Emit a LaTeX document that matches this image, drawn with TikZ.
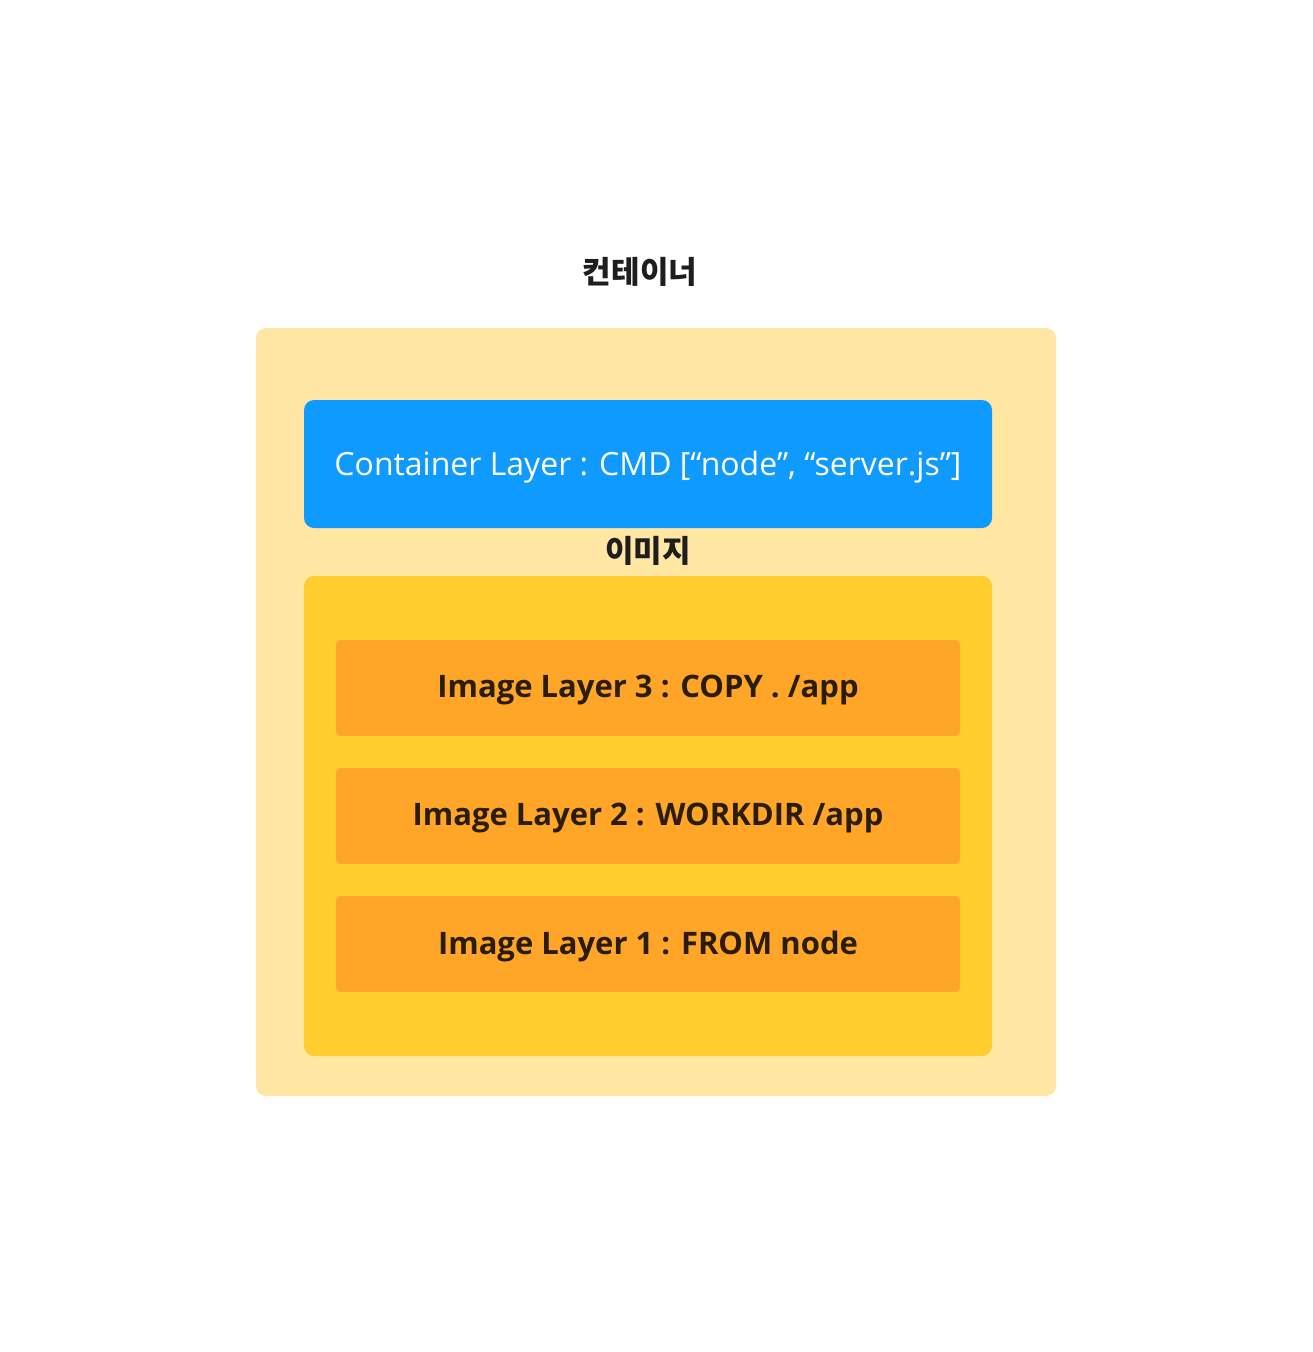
\documentclass[tikz,border=0pt]{standalone}
\usepackage{fontspec}
\setmainfont{Open Sans}
\newfontfamily\kor{Noto Sans CJK KR}
\definecolor{outerc}{HTML}{FFE6A3}
\definecolor{bluec}{HTML}{0F9AFF}
\definecolor{imgc}{HTML}{FFCD2E}
\definecolor{layc}{HTML}{FFA629}
\definecolor{dark}{HTML}{2A1C05}
\definecolor{titlec}{HTML}{1E1E1E}
\begin{document}
\begin{tikzpicture}[x=1pt,y=-1pt,
  box/.style={rounded corners=10pt,inner sep=0pt},
  layer/.style={fill=layc,rounded corners=4pt,inner sep=0pt,minimum width=624pt,minimum height=96pt},
  ltext/.style={font=\fontsize{31}{36}\selectfont\bfseries,text=dark,inner sep=0pt},
  ttl/.style={font=\kor\fontsize{31}{36}\selectfont\bfseries,text=titlec,inner sep=0pt}]
\useasboundingbox (0,0) rectangle (1312,1352);
\fill[white] (0,0) rectangle (1312,1352);
\node[ttl] (title) at (640,272) {컨테이너};
\fill[outerc,rounded corners=10pt] (256,328) rectangle (1056,1096);
\node[box,fill=bluec,minimum width=688pt,minimum height=128pt] (cont) at (648,464) {};
\node[text=white,font=\fontsize{32}{38}\selectfont,inner sep=0pt] (conttext) at (648,467) {Container Layer : CMD [“node”, “server.js”]};
\node[ttl] (imglabel) at (648,551) {이미지};
\node[box,fill=imgc,minimum width=688pt,minimum height=480pt] (img) at (648,816) {};
\node[layer] (l3) at (648,688) {};
\node[layer] (l2) at (648,816) {};
\node[layer] (l1) at (648,944) {};
\node[ltext] (t3) at ([yshift=-2pt]l3.center) {Image Layer 3 : COPY . /app};
\node[ltext] (t2) at ([yshift=-2pt]l2.center) {Image Layer 2 : WORKDIR /app};
\node[ltext] (t1) at ([yshift=-2pt]l1.center) {Image Layer 1 : FROM node};
\end{tikzpicture}
\end{document}
